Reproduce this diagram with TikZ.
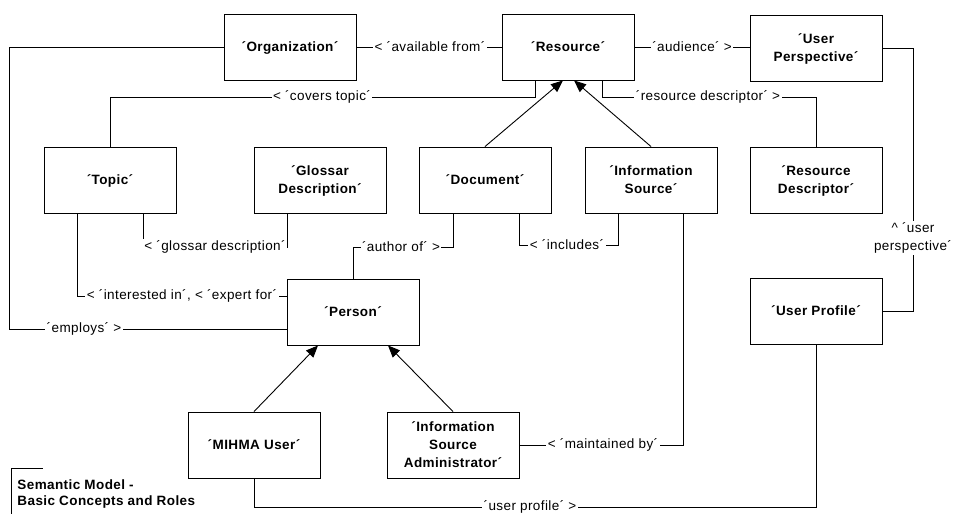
\documentclass[tikz,border=0pt]{standalone}
\usepackage{fontspec}
\setmainfont{Liberation Sans}[LetterSpace=3]
\usetikzlibrary{arrows.meta,calc}
\begin{document}
\begin{tikzpicture}[x=1pt,y=-1pt,
  line width=0.9pt,
  box/.style={draw, minimum width=132pt, minimum height=66pt, inner sep=0pt, align=center,
    text depth=0pt, font=\fontsize{13.5}{18}\selectfont\bfseries},
  lbl/.style={fill=white, inner sep=1.5pt, align=center, font=\fontsize{13.5}{18}\selectfont},
  inh/.style={-{Triangle[length=12pt,width=10pt]}}
]
\useasboundingbox (0,0) rectangle (954,514);
\clip (0,0) rectangle (954,514);
\fill[white] (0,0) rectangle (954,514);

% boxes
\node[box] (org)   at (290,47)  {´Organization´};
\node[box] (res)   at (568,47)  {´Resource´};
\node[box] (up)    at (816,48)  {´User\\Perspective´};
\node[box] (topic) at (110,180) {´Topic´};
\node[box] (gloss) at (320,180) {´Glossar\\Description´};
\node[box] (doc)   at (485,180) {´Document´};
\node[box] (info)  at (651,180) {´Information\\Source´};
\node[box] (rdesc) at (816,180) {´Resource\\Descriptor´};
\node[box] (person) at (353,312) {´Person´};
\node[box] (mihma) at (254,445) {´MIHMA User´};
\node[box] (isa)   at (453,445) {´Information\\Source\\Administrator´};
\node[box] (uprof) at (816,311) {´User Profile´};

% connectors
\draw (org.west) -- ++(-214,0) |- ($(person.west)+(0,17)$);
\draw (org.east) -- (res.west);
\draw ([xshift=-33pt]res.south) -- ++(0,17) -| (topic.north);
\draw ([xshift=34pt]res.south) -- ++(0,17) -| (rdesc.north);
\draw (res.east) -- (res.east -| up.west);
\draw (up.east) -- ++(31,0) |- (uprof.east);
\draw[inh] (doc.north) -- ([xshift=-5pt]res.south);
\draw[inh] (info.north) -- ([xshift=6pt]res.south);
\draw ([xshift=33pt]topic.south) -- ++(0,34) -| ([xshift=-33pt]gloss.south);
\draw ([xshift=34pt]doc.south) -- ++(0,32) -| ([xshift=-33pt]info.south);
\draw ([xshift=-32pt]doc.south) -- ++(0,34) -| (person.north);
\draw ([xshift=-33pt]topic.south) |- ($(person.west)+(0,-16)$);
\draw[inh] (mihma.north) -- ([xshift=-35pt]person.south);
\draw[inh] (isa.north) -- ([xshift=35pt]person.south);
\draw (isa.east) -| ([xshift=32pt]info.south);
\draw (mihma.south) -- ++(0,29) -| (uprof.south);

% labels
\node[lbl] (l1) at (84,329)  {´employs´ >};
\node[lbl] (l2) at (430,47)  {< ´available from´};
\node[lbl] (l3) at (322,97)  {< ´covers topic´};
\node[lbl] (l4) at (708,97)  {´resource descriptor´ >};
\node[lbl] (l5) at (692,47)  {´audience´ >};
\node[lbl] (l6) at (913,238) {\textasciicircum\ ´user\\perspective´};
\node[lbl] (l7) at (215,247) {< ´glossar description´};
\node[lbl] (l8) at (567,245) {< ´includes´};
\node[lbl] (l9) at (401,247) {´author of´ >};
\node[lbl] (l10) at (182,296) {< ´interested in´, < ´expert for´};
\node[lbl] (l11) at (603,445) {< ´maintained by´};
\node[lbl] (l12) at (530,507) {´user profile´ >};

% title
\draw (11,514) -- (11,468) -- (43,468);
\node[anchor=north west, align=left, inner sep=0pt,
  font=\fontsize{13.5}{16}\selectfont\bfseries] (title) at (17,479)
  {Semantic Model -\\Basic Concepts and Roles};
\end{tikzpicture}
\end{document}
